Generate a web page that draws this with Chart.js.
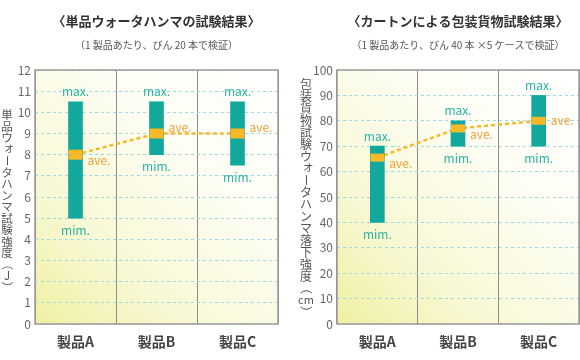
<!DOCTYPE html>
<html>
<head>
<meta charset="utf-8">
<script src="https://cdn.jsdelivr.net/npm/chart.js@4.4.1/dist/chart.umd.min.js"></script>
<style>
html, body { margin: 0; padding: 0; background: #fff; }
#wrap { position: relative; width: 580px; height: 360px; }
#wrap canvas { position: absolute; top: 0; }
</style>
</head>
<body>
<div id="wrap">
  <canvas id="hammer" width="290" height="360" style="left:0"></canvas>
  <canvas id="drop" width="290" height="360" style="left:290px"></canvas>
</div>
<script>
// categories and values
const categories = ['製品A', '製品B', '製品C'];

const hammerMin = [5, 8, 7.5];
const hammerMax = [10.5, 10.5, 10.5];
const hammerAve = [8, 9, 9];

const dropMin = [40, 70, 70];
const dropMax = [70, 80, 90];
const dropAve = [65.5, 77, 80];

const FONT = "'Noto Sans CJK JP', 'Noto Sans', sans-serif";
const TEAL = '#12a99c';
const TEAL_TEXT = '#2bb3a6';
const ORANGE = '#f7b928';
const ORANGE_TEXT = '#f0a23c';

// draws titles, axis title, ave band and the small labels
const decorPlugin = {
    id: 'decor',
    beforeDraw(chart, args, o) {
        const { ctx, chartArea: a } = chart;
        const g = ctx.createLinearGradient(a.left, a.bottom, a.right, a.top);
        g.addColorStop(0, '#eff0a2');
        g.addColorStop(0.3, '#f8f8d6');
        g.addColorStop(0.65, '#fdfdf3');
        g.addColorStop(1, '#ffffff');
        ctx.save();
        ctx.fillStyle = g;
        ctx.fillRect(a.left, a.top, a.right - a.left, a.bottom - a.top);
        ctx.restore();
    },
    afterDatasetsDraw(chart, args, o) {
        const { ctx, chartArea: a } = chart;
        const xs = chart.scales.x, ys = chart.scales.y;
        const bars = chart.getDatasetMeta(1).data;
        ctx.save();
        // frame
        ctx.strokeStyle = '#9a9a9a';
        ctx.lineWidth = 1.5;
        ctx.strokeRect(a.left, a.top, a.right - a.left, a.bottom - a.top);

        ctx.font = '12px ' + FONT;
        ctx.textBaseline = 'middle';
        o.ave.forEach((v, i) => {
            const x = xs.getPixelForValue(i);
            const w = bars[i].width;
            const y = ys.getPixelForValue(v);
            ctx.fillStyle = ORANGE;
            ctx.fillRect(x - w / 2, y - o.band / 2, w, o.band);

            // ave. label kept clear of the dashed line
            let dy = 0;
            const next = o.ave[i + 1], prev = o.ave[i - 1];
            if (next !== undefined) dy = next > v ? 6 : -6;
            else if (prev === v) dy = -6;
            ctx.fillStyle = ORANGE_TEXT;
            ctx.textAlign = 'left';
            ctx.fillText('ave.', x + w / 2 + 5, y + dy);

            ctx.fillStyle = TEAL_TEXT;
            ctx.textAlign = 'center';
            ctx.fillText('max.', x, ys.getPixelForValue(o.max[i]) - 10);
            ctx.fillText('mim.', x, ys.getPixelForValue(o.min[i]) + 12);
        });
        ctx.restore();
    },
    afterDraw(chart, args, o) {
        const { ctx, chartArea: a } = chart;
        const cx = (a.left + a.right) / 2;
        ctx.save();
        ctx.textAlign = 'center';
        ctx.textBaseline = 'middle';
        ctx.fillStyle = '#333';
        ctx.font = 'bold 13px ' + FONT;
        ctx.fillText(o.title, cx, 21);
        ctx.fillStyle = '#555';
        ctx.font = '10px ' + FONT;
        ctx.fillText(o.subtitle, cx, 45);

        // vertical axis title, one glyph under the other
        ctx.fillStyle = '#555';
        ctx.font = o.titleSize + 'px ' + FONT;
        const step = o.titleSize;
        let y = (a.top + a.bottom) / 2 + o.titleShift - (o.yTitle.length - 1) * step / 2;
        o.yTitle.forEach(ch => {
            ctx.save();
            if ('ー（）'.includes(ch)) {
                ctx.translate(o.titleX, y);
                ctx.rotate(Math.PI / 2);
                ctx.fillText(ch, 0, 0);
            } else if (ch === 'ォ') {
                ctx.fillText(ch, o.titleX + 2, y - 2);
            } else if (ch.length > 1) {
                ctx.font = (o.titleSize - 1) + 'px ' + FONT;
                ctx.fillText(ch, o.titleX, y);
            } else {
                ctx.fillText(ch, o.titleX, y);
            }
            ctx.restore();
            y += step;
        });
        ctx.restore();
    }
};

function buildChart(id, opt) {
    const ctx = document.getElementById(id).getContext('2d');
    return new Chart(ctx, {
        type: 'bar',
        data: {
            labels: categories,
            datasets: [
                {
                    type: 'line',
                    data: opt.ave,
                    borderColor: ORANGE,
                    borderWidth: 2.5,
                    borderDash: [4, 3],
                    pointRadius: 0,
                    fill: false,
                    order: 3
                },
                {
                    type: 'bar',
                    data: opt.min.map((v, i) => [v, opt.max[i]]),
                    backgroundColor: TEAL,
                    barThickness: 14,
                    order: 1
                }
            ]
        },
        options: {
            responsive: false,
            animation: false,
            layout: { padding: { top: 70, right: opt.padRight, left: 0, bottom: 0 } },
            plugins: {
                legend: { display: false },
                tooltip: { enabled: false },
                decor: {
                    title: opt.title,
                    subtitle: opt.subtitle,
                    yTitle: opt.yTitle,
                    titleX: opt.titleX,
                    titleSize: opt.titleSize,
                    titleShift: opt.titleShift,
                    band: opt.band,
                    ave: opt.ave, min: opt.min, max: opt.max
                }
            },
            scales: {
                x: {
                    grid: { color: '#8c8c8c', offset: true, drawTicks: false },
                    border: { display: false },
                    ticks: { color: '#444', font: { size: 14, weight: 'bold', family: FONT }, padding: 9 },
                    afterFit(s) { s.height = 36; }
                },
                y: {
                    min: 0,
                    max: opt.yMax,
                    ticks: { stepSize: opt.step, color: '#666', font: { size: 12, family: FONT }, padding: 4 },
                    grid: { color: '#a3d9e5', drawTicks: false },
                    border: { display: false, dash: [3, 3] },
                    afterFit(s) { s.width = opt.axisWidth; }
                }
            }
        },
        plugins: [decorPlugin]
    });
}

buildChart('hammer', {
    title: '〈単品ウォータハンマの試験結果〉',
    subtitle: '（1 製品あたり、びん 20 本で検証）',
    yTitle: [...'単品ウォータハンマ試験強度', '（', 'J', '）'],
    titleX: 7, titleSize: 11.5, titleShift: 4,
    yMax: 12, step: 1, axisWidth: 35, padRight: 12, band: 10,
    min: hammerMin, max: hammerMax, ave: hammerAve
});

buildChart('drop', {
    title: '〈カートンによる包装貨物試験結果〉',
    subtitle: '（1 製品あたり、びん 40 本 ×5 ケースで検証）',
    yTitle: [...'包装貨物試験ウォータハンマ落下強度', '（', 'cm', '）'],
    titleX: 16, titleSize: 12, titleShift: 1,
    yMax: 100, step: 10, axisWidth: 47, padRight: 1, band: 8,
    min: dropMin, max: dropMax, ave: dropAve
});
</script>
</body>
</html>
